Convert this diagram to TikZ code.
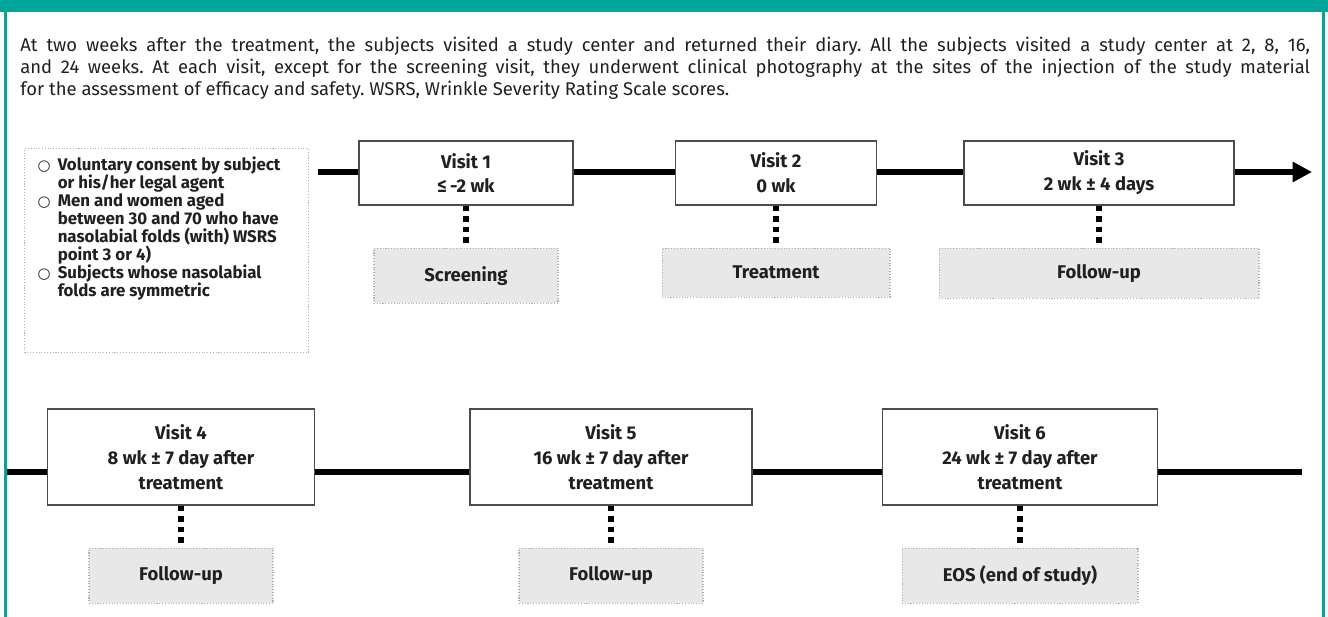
\documentclass[tikz,border=0pt]{standalone}
\usepackage{fontspec}
\setmainfont{Fira Sans}
\newfontfamily\symfont{DejaVu Sans}
\usepackage{tikz}
\usetikzlibrary{positioning,arrows.meta}
\definecolor{frameteal}{RGB}{0,166,156}
\definecolor{inkgray}{RGB}{35,31,32}
\frenchspacing

\begin{document}
\begin{tikzpicture}[
				x=0.02cm, y=-0.02cm,
				visitbox/.style={rectangle, draw=black!70, line width=0.7pt, fill=white, align=center, text=inkgray, font=\fontsize{10.5}{14.2}\selectfont\bfseries, inner sep=2pt},
				phasebox/.style={rectangle, draw=black!30, densely dotted, line width=0.6pt, fill=black!9, text=inkgray, font=\fontsize{10.5}{14}\selectfont\bfseries, minimum width=3.68cm, minimum height=1.1cm},
				critbox/.style={rectangle, draw=black!30, densely dotted, line width=0.6pt, text=inkgray, inner xsep=0.26cm, inner ysep=0.16cm, font=\fontsize{9.6}{10.25}\selectfont\bfseries},
				timeline/.style={line width=3.4pt, black},
				linkdots/.style={line width=3.2pt, dash pattern=on 3.2pt off 2.8pt, black},
				node distance = 0.84cm,
				]
				\useasboundingbox (0,0) rectangle (1328,617);
				
				%Frame
				\fill[frameteal] (0,0) rectangle (1328,12);
				\draw[frameteal, line width=1.7pt] (5.5,0) -- (5.5,617);
				\draw[frameteal, line width=1.7pt] (1323.5,0) -- (1323.5,617);
				
				%Note
				\node[anchor=north west, align=justify, text width=25.8cm, inner sep=0pt, text=inkgray, font=\fontsize{10.5}{12.5}\selectfont] (note) at (20,37) {\hyphenpenalty=10000\relax At two weeks after the treatment, the subjects visited a study center and returned their diary. All the subjects visited a study center at 2, 8, 16,\linebreak and 24 weeks. At each visit, except for the screening visit, they underwent clinical photography at the sites of the injection of the study material\linebreak for the assessment of efficacy and safety. WSRS, Wrinkle Severity Rating Scale scores.};
				
				%Inclusion criteria
				\node[critbox, anchor=north west] (crit) at (24,148) {\parbox[t][3.76cm][t]{5.16cm}{\raggedright
						\hangindent=1.2em\hangafter=1\makebox[1.2em][l]{\symfont\mdseries\fontsize{8.5}{10}\selectfont ○}Voluntary consent by subject\newline or his/her legal agent\par
						\hangindent=1.2em\hangafter=1\makebox[1.2em][l]{\symfont\mdseries\fontsize{8.5}{10}\selectfont ○}Men and women aged\newline between 30 and 70 who have\newline nasolabial folds (with) WSRS\newline point 3 or 4)\par
						\hangindent=1.2em\hangafter=1\makebox[1.2em][l]{\symfont\mdseries\fontsize{8.5}{10}\selectfont ○}Subjects whose nasolabial\newline folds are symmetric\par}};
				
				%Nodes
				\node[visitbox, minimum width=4.28cm, minimum height=1.28cm](v1) at (466,173) {Visit 1\\≤\,-2 wk};
				\node[visitbox, minimum width=4.02cm, minimum height=1.28cm](v2) at (776,173) {Visit 2\\0 wk};
				\node[visitbox, minimum width=5.40cm, minimum height=1.28cm](v3) at (1099,173) {Visit 3\\2 wk ± 4 days};
				\node[visitbox, minimum width=5.34cm, minimum height=1.92cm](v4) at (181,457) {Visit 4\\8 wk ± 7 day after\\treatment};
				\node[visitbox, minimum width=5.64cm, minimum height=1.92cm](v5) at (611,457) {Visit 5\\16 wk ± 7 day after\\treatment};
				\node[visitbox, minimum width=5.50cm, minimum height=1.92cm](v6) at (1020,457) {Visit 6\\24 wk ± 7 day after\\treatment};
				
				\node[phasebox](p1)[below=of v1]{Screening};
				\node[phasebox, minimum width=4.56cm, minimum height=0.98cm](p2)[below=of v2]{Treatment};
				\node[phasebox, minimum width=6.40cm, minimum height=1.0cm](p3)[below=of v3]{Follow-up};
				\node[phasebox](p4)[below=of v4]{Follow-up};
				\node[phasebox](p5)[below=of v5]{Follow-up};
				\node[phasebox, minimum width=4.72cm](p6)[below=of v6]{EOS (end of study)};
				
				\coordinate (top start) at (318,172);
				\coordinate (top end) at (1312,172);
				\coordinate (low start) at (7,472);
				\coordinate (low end) at (1302,472);
				
				%Lines
				\draw[timeline] (top start) -- (top start -| v1.west);
				\draw[timeline] (v1.east |- top start) -- (v2.west |- top start);
				\draw[timeline] (v2.east |- top start) -- (v3.west |- top start);
				\draw[timeline, -{Triangle[length=11pt, width=11pt]}] (v3.east |- top start) -- (top end);
				
				\draw[timeline] (low start) -- (low start -| v4.west);
				\draw[timeline] (v4.east |- low start) -- (v5.west |- low start);
				\draw[timeline] (v5.east |- low start) -- (v6.west |- low start);
				\draw[timeline] (v6.east |- low start) -- (low end);
				
				\draw[linkdots] (v1.south) -- (p1.north);
				\draw[linkdots] (v2.south) -- (p2.north);
				\draw[linkdots] (v3.south) -- (p3.north);
				\draw[linkdots] (v4.south) -- (p4.north);
				\draw[linkdots] (v5.south) -- (p5.north);
				\draw[linkdots] (v6.south) -- (p6.north);
				
\end{tikzpicture}
\end{document}
